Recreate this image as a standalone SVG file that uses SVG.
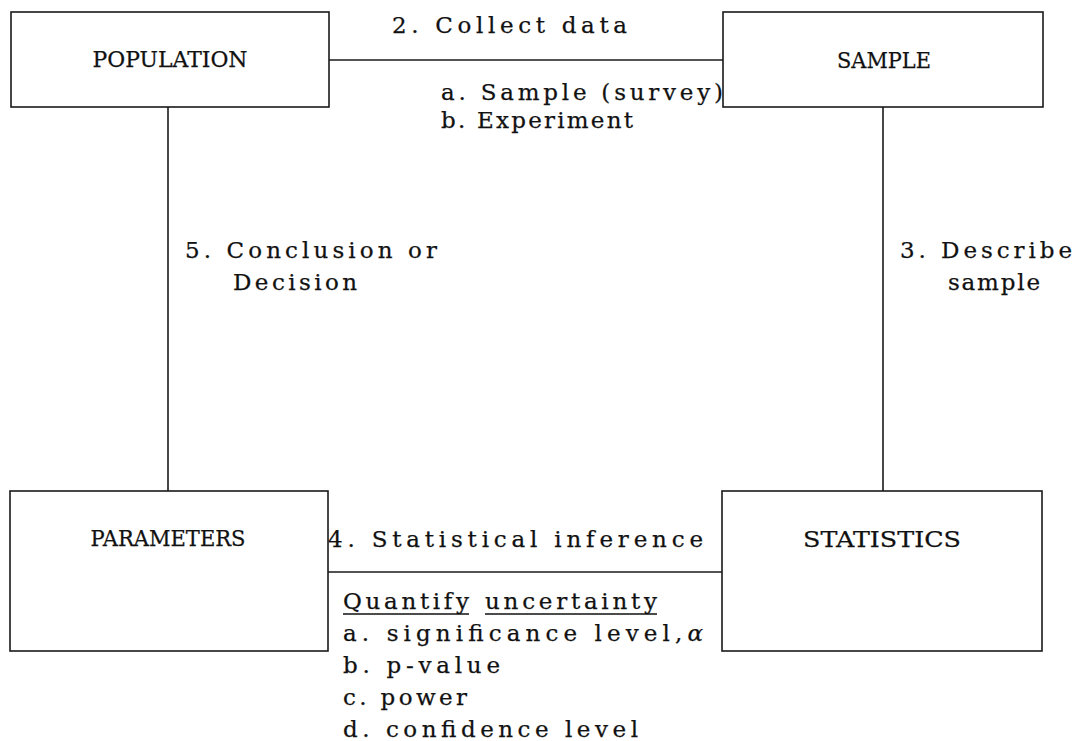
<svg xmlns="http://www.w3.org/2000/svg" width="1078" height="741" viewBox="0 0 1078 741">
<style>
.box{fill:#fff;stroke:#1a1a1a;stroke-width:1.6}
.conn{stroke:#1a1a1a;stroke-width:1.6;fill:none}
.lbl{font-family:"DejaVu Serif","Liberation Serif",serif;font-size:23px;fill:#111;stroke:#111;stroke-width:0.25;text-anchor:middle}
.t{font-family:"DejaVu Serif","Liberation Serif",serif;font-size:23px;fill:#111;stroke:#111;stroke-width:0.25}
.ul{stroke:#111;stroke-width:1.6}
</style>
<rect width="1078" height="741" fill="#fff"/>
<g id="connectors">
<line class="conn" x1="329" y1="60" x2="723" y2="60"/>
<line class="conn" x1="168" y1="107" x2="168" y2="491"/>
<line class="conn" x1="883" y1="107" x2="883" y2="491"/>
<line class="conn" x1="328" y1="572" x2="722" y2="572"/>
</g>
<g id="population">
<rect class="box" x="11" y="12" width="318" height="95"/>
<text class="lbl" x="170" y="67" textLength="155" lengthAdjust="spacingAndGlyphs">POPULATION</text>
</g>
<g id="sample">
<rect class="box" x="723" y="12" width="320" height="95"/>
<text class="lbl" x="884" y="68" textLength="94" lengthAdjust="spacingAndGlyphs">SAMPLE</text>
</g>
<g id="parameters">
<rect class="box" x="10" y="491" width="318" height="160"/>
<text class="lbl" x="168" y="546" textLength="155" lengthAdjust="spacingAndGlyphs">PARAMETERS</text>
</g>
<g id="statistics">
<rect class="box" x="722" y="491" width="320" height="160"/>
<text class="lbl" x="882" y="547" textLength="158" lengthAdjust="spacingAndGlyphs">STATISTICS</text>
</g>
<g id="labels">
<text class="t" x="392" y="33" textLength="235" lengthAdjust="spacing">2. Collect data</text>
<text class="t" x="441" y="100" textLength="282" lengthAdjust="spacing">a. Sample (survey)</text>
<text class="t" x="441" y="128" textLength="192" lengthAdjust="spacing">b. Experiment</text>
<text class="t" x="185" y="258" textLength="252" lengthAdjust="spacing">5. Conclusion or</text>
<text class="t" x="233" y="290" textLength="124" lengthAdjust="spacing">Decision</text>
<text class="t" x="900" y="258" textLength="172" lengthAdjust="spacing">3. Describe</text>
<text class="t" x="948" y="290" textLength="92" lengthAdjust="spacing">sample</text>
<text class="t" x="328" y="547" textLength="375" lengthAdjust="spacing">4. Statistical inference</text>
<text class="t" x="343" y="609" textLength="126" lengthAdjust="spacing">Quantify</text>
<text class="t" x="485" y="609" textLength="172" lengthAdjust="spacing">uncertainty</text>
<line class="ul" x1="343" y1="614" x2="469" y2="614"/>
<line class="ul" x1="485" y1="614" x2="657" y2="614"/>
<text class="t" x="343" y="641" textLength="360" lengthAdjust="spacing">a. significance level,<tspan font-style="italic">α</tspan></text>
<text class="t" x="343" y="673" textLength="157" lengthAdjust="spacing">b. p-value</text>
<text class="t" x="343" y="705" textLength="124" lengthAdjust="spacing">c. power</text>
<text class="t" x="343" y="737" textLength="295" lengthAdjust="spacing">d. confidence level</text>
</g>
</svg>
